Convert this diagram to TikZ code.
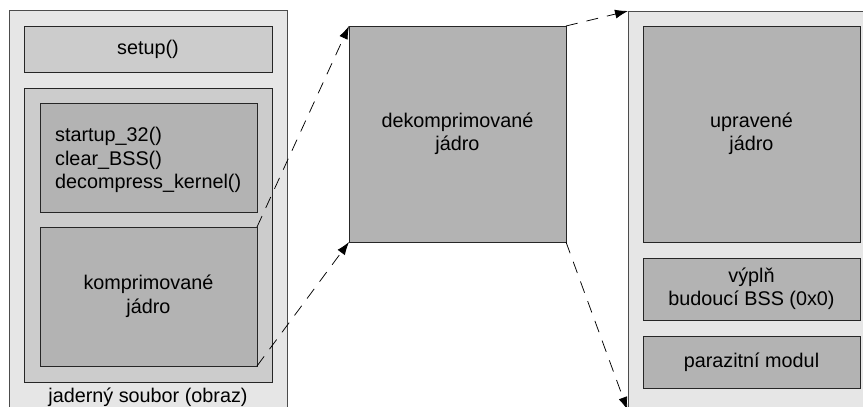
\documentclass[tikz,border=0pt]{standalone}
\usepackage{fontspec}
\setmainfont{Liberation Sans}
\usetikzlibrary{arrows.meta}
\definecolor{outerc}{HTML}{E6E6E6}
\definecolor{midc}{HTML}{CCCCCC}
\definecolor{innerc}{HTML}{B3B3B3}
\begin{document}
\begin{tikzpicture}[x=1pt,y=-1pt,
  box/.style={draw=black!85,line width=0.8pt,minimum width=#1,inner sep=0pt,outer sep=0pt},
  outerbox/.style={draw=black!70,line width=0.9pt,fill=outerc,inner sep=0pt,outer sep=0pt},
  lbl/.style={font=\fontsize{19.8}{23.5}\selectfont,align=center,inner sep=0pt},
  flow/.style={draw=black,line width=0.75pt,dash pattern=on 12pt off 9pt,-{Latex[length=13pt,width=9pt]}}]
\useasboundingbox (0,0) rectangle (863,407);
\clip (0,0) rectangle (863,407);
% left outer
\node[outerbox,minimum width=278pt,minimum height=420pt] (lout) at (148,220) {};
\node[box=248pt,fill=midc,minimum height=46pt] (setup) at (148,49) {};
\node[lbl] at (setup) {setup()};
\node[box=248pt,fill=midc,minimum height=294pt] (lmid) at (148,235) {};
\node[box=217pt,fill=innerc,minimum height=109pt] (in1) at (148.5,157.5) {};
\node[lbl,anchor=west,align=left] (in1t) at (55,160) {startup\_32()\\clear\_BSS()\\decompress\_kernel()};
\node[box=217pt,fill=innerc,minimum height=139pt] (in2) at (148.5,296.5) {};
\node[lbl] at (in2) {komprimované\\jádro};
\node[lbl] (lcap) at (148,397) {jaderný soubor (obraz)};
% middle
\node[box=217pt,fill=innerc,minimum height=216pt] (dek) at (457.5,134) {};
\node[lbl] at (dek) {dekomprimované\\jádro};
% right outer
\node[outerbox,minimum width=260pt,minimum height=420pt] (rout) at (758,221) {};
\node[box=217pt,fill=innerc,minimum height=216pt] (upr) at (751.5,134) {};
\node[lbl] at (upr) {upravené\\jádro};
\node[box=217pt,fill=innerc,minimum height=62pt] (vypln) at (751.5,289) {};
\node[lbl] at (vypln) {výplň\\budoucí BSS (0x0)};
\node[box=217pt,fill=innerc,minimum height=52pt] (para) at (751.5,362) {};
\node[lbl] at (para) {parazitní modul};
\coordinate (rend) at (627.5,410);
% arrows
\draw[flow] (in2.north east) -- (dek.north west);
\draw[flow] (in2.south east) -- (dek.south west);
\draw[flow] (dek.north east) -- (rout.north west);
\draw[flow] (dek.south east) -- (rend);
\end{tikzpicture}
\end{document}
